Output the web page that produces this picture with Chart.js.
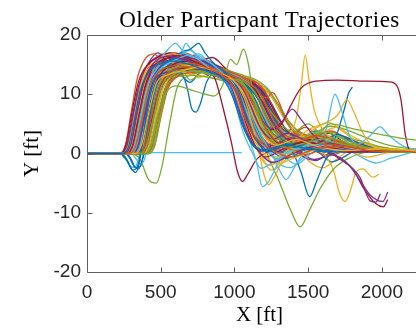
<!DOCTYPE html>
<html><head><meta charset="utf-8">
<script src="https://cdn.jsdelivr.net/npm/chart.js@4/dist/chart.umd.min.js"></script>
<style>html,body{margin:0;padding:0;overflow:hidden;background:#fff}#wrap{width:432px;height:329px}</style>
</head><body><div id="wrap"><canvas id="c" width="432" height="329"></canvas></div>
<script>
// ---- data: each trajectory as [X ft, Y ft] key points ----
const t01=[[0,0],[240,0],[280,1],[320,5.5],[360,10.5],[410,13.5],[480,15],[580,15.6],[700,15],[820,13.8],[920,12.6],[990,9.5],[1050,5],[1110,2],[1200,0.6],[1350,1.4],[1500,0.8],[1700,0.2]];
const t02=[[0,0],[290,0],[330,1.3],[375,6],[420,11],[480,13.6],[580,14.8],[700,15.2],[820,14.4],[930,13],[1010,10.5],[1070,6],[1140,2.8],[1230,1],[1380,-0.6],[1550,0.8],[1750,1.2],[1950,0.4],[2200,0.3]];
const t03=[[0,0],[330,0],[370,1.5],[420,7],[470,11.8],[540,13.2],[650,14],[760,14.6],[880,13.8],[990,12.4],[1070,9.8],[1130,6],[1200,3],[1280,1.4],[1420,2.4],[1560,1.2],[1750,0.5],[2000,0.8],[2340,0.3]];
const t04=[[0,0],[260,0],[300,1.8],[345,7.5],[390,12.5],[450,15.2],[540,16.4],[640,16],[760,14.8],[880,13.5],[970,11.6],[1030,7.5],[1090,3.2],[1160,0.5],[1260,-1.5],[1400,0],[1550,1.2],[1720,0.6],[1900,0.2]];
const t05=[[0,0],[360,0],[400,1.2],[450,6],[500,11],[570,13.6],[680,14.2],[800,13.6],[920,12.8],[1040,12],[1120,9.5],[1180,5.5],[1250,2.5],[1340,1],[1480,1.8],[1650,2.6],[1800,1.5],[2000,0.6],[2250,0.4]];
const t06=[[0,0],[300,0],[340,1.6],[385,7.2],[430,11.6],[500,14.3],[600,15.8],[690,16.6],[780,15.4],[880,13.2],[960,11.4],[1010,8],[1060,3.5],[1120,0.2],[1180,-2.5],[1260,-1.5],[1400,0.6],[1560,1.5],[1700,0.4]];
const t07=[[0,0],[270,0],[310,1.4],[350,6.2],[395,11.4],[450,14.6],[530,16],[620,16.5],[720,15.6],[840,14.2],[950,12.8],[1020,9.8],[1080,5],[1140,1.4],[1210,-0.6],[1320,0.6],[1480,2],[1650,1],[1850,0.3],[2100,0.5]];
const t08=[[0,0],[220,0],[270,-1.2],[310,-2.8],[345,-2],[380,2.5],[420,9],[470,13.2],[540,15.4],[640,16],[750,15],[860,13.4],[950,12],[1010,8.6],[1070,4],[1130,1.2],[1220,0.4],[1380,1.6],[1550,0.7],[1750,0.2]];
const t09=[[0,0],[350,0],[390,1.2],[440,6.5],[490,11.2],[560,13.8],[660,14.6],[780,14.4],[900,13.4],[1000,12.6],[1090,10.4],[1160,6.8],[1230,3.6],[1310,1.6],[1430,0.5],[1600,1.6],[1780,1.1],[1980,0.5],[2340,0.4]];
const t10=[[0,0],[250,0],[290,1.6],[330,7],[375,12],[430,14.8],[500,16.2],[580,16.8],[680,16],[800,14.6],[920,13],[1000,10.8],[1060,6.5],[1120,2.8],[1190,0.3],[1280,-1.8],[1400,-0.8],[1560,0.6],[1700,0.2]];
const t11=[[0,0],[310,0],[350,1.4],[395,6.8],[440,11.4],[500,13.4],[590,13.8],[700,14.2],[820,14],[940,13],[1040,11.5],[1110,8],[1180,4.2],[1260,2.4],[1360,3.4],[1480,2.2],[1620,0.8],[1800,0.3],[2050,0.6]];
const t12=[[0,0],[400,0],[440,1.6],[490,7.2],[540,11.6],[610,13.6],[720,13.9],[850,13.3],[980,12.7],[1080,11.9],[1160,9.5],[1230,6],[1300,3.2],[1380,1.8],[1500,1.2],[1640,2],[1800,1.2],[2000,0.4],[2200,0.2]];
const t13=[[0,0],[280,0],[320,1.2],[360,5.8],[405,10.8],[460,14.6],[530,17],[600,18.6],[660,17],[720,16.2],[800,15.8],[900,14],[980,11.5],[1040,7],[1100,2.5],[1150,-1.5],[1189,-5.6],[1230,-4.8],[1290,-2],[1360,0.2],[1500,1],[1650,0.5]];
const t14=[[0,0],[330,0],[370,1.2],[415,6.4],[460,11.5],[520,14],[600,15.2],[700,15.6],[800,14.6],[870,12.5],[930,7],[980,1.8],[1020,-3],[1054,-4.7],[1090,-3.5],[1150,-1],[1250,0.5],[1400,1.2],[1600,0.6],[1800,0.2]];
const t15=[[0,0],[230,0],[270,-1],[300,-2.5],[330,-3.2],[355,-1.5],[385,3.5],[420,9.5],[470,13.4],[550,15.4],[650,17.2],[700,17.6],[757,18.6],[800,17],[870,15],[950,13.4],[1020,11],[1080,6.4],[1140,2.6],[1220,0.4],[1320,1.4],[1460,0.8],[1620,0.2]];
const t16=[[0,0],[370,0],[410,1.4],[455,6.6],[500,11],[560,13],[650,14],[760,14.8],[870,14.3],[980,13.2],[1080,12],[1160,10.6],[1220,8],[1280,5],[1350,3],[1440,2.2],[1560,3],[1700,2],[1850,0.8],[2100,0.3],[2340,0.2]];
const t17=[[0,0],[240,0],[280,1.3],[320,6.2],[365,11.6],[420,14.8],[480,15.4],[520,16.6],[560,15.6],[640,15],[760,14.6],[880,13.6],[970,12],[1030,8.4],[1090,4],[1150,0.8],[1200,-1.5],[1250,-2],[1310,-0.4],[1420,1],[1580,0.6],[1760,0.2]];
const t18=[[0,0],[300,0],[345,1.8],[390,7.6],[440,12.2],[500,14.8],[580,16],[680,16.2],[780,15.6],[890,14.4],[990,13],[1070,11.2],[1140,8],[1200,5.2],[1260,4.2],[1330,5.6],[1392,7.5],[1450,5.8],[1540,3],[1650,1.8],[1780,1.2],[1950,0.4],[2150,0.5]];
const t19=[[0,0],[280,0],[320,1],[365,5.6],[410,10.6],[470,13.2],[560,14.2],[660,14.8],[760,14.2],[860,13.4],[960,12.8],[1040,12.4],[1100,10],[1160,6.2],[1220,3],[1300,1.4],[1420,0.8],[1560,3],[1650,5],[1800,4.2],[1950,3.4],[2150,2.5],[2340,2]];
const t20=[[0,0],[320,0],[360,1.5],[405,6.8],[450,11.2],[510,13.6],[600,14.6],[680,15.6],[740,15],[820,14.5],[920,13.4],[1010,12],[1080,9.5],[1140,5.4],[1200,2.2],[1260,-0.4],[1310,-3],[1350,-4.4],[1410,-2.2],[1480,0.4],[1600,1.6],[1720,0.8],[1880,0.3],[2100,0.6]];
const t21=[[0,0],[360,0],[400,1.4],[445,6.4],[490,11],[550,13.2],[640,14.3],[740,14.6],[850,14],[960,13],[1060,12.2],[1140,10.8],[1200,8],[1260,4.8],[1330,2.6],[1420,1.6],[1520,2.4],[1640,1.6],[1800,0.6],[2000,0.4],[2250,0.3]];
const t22=[[0,0],[260,0],[290,-0.8],[320,-2.2],[350,-2.6],[380,-0.5],[410,4],[450,9.6],[500,13.4],[570,15.2],[670,16.4],[760,15.8],[870,14.4],[970,12.8],[1050,10.8],[1110,7],[1170,3.5],[1230,1.2],[1330,0.2],[1450,1.4],[1600,0.9],[1780,0.3],[1960,0.5]];
const t23=[[0,0],[290,0],[330,1.2],[375,6.2],[420,11.2],[480,14],[560,15.4],[640,16.2],[720,15.8],[820,14.8],[920,13.8],[1010,12.6],[1080,10],[1130,6.8],[1190,3.5],[1260,1.8],[1360,1.2],[1480,-0.2],[1620,1],[1800,1.4],[2000,0.6],[2340,0.4]];
const t24=[[0,0],[380,0],[420,1.4],[465,6.4],[510,10.8],[580,13.2],[680,14.2],[790,14],[900,13.2],[1000,12.4],[1060,10],[1110,5.8],[1160,1],[1200,-3.5],[1230,-5.3],[1270,-4],[1330,-1],[1420,0.8],[1560,1.4],[1720,0.6],[1900,0.3]];
const t25=[[0,0],[250,0],[290,1.4],[335,6.8],[380,11.8],[440,14.6],[520,15.6],[610,15.2],[700,14.4],[800,13.6],[900,12.8],[980,11.4],[1040,8],[1100,4.2],[1170,2],[1260,1.4],[1380,2.6],[1500,2],[1650,0.6],[1820,0.2],[2000,0.4]];
const t26=[[0,0],[340,0],[380,1.2],[425,6],[470,10.8],[530,13.4],[620,14.6],[720,15.2],[830,14.6],[940,13.6],[1030,12.4],[1100,10.4],[1160,7.2],[1220,4.4],[1290,2.6],[1380,1.8],[1500,3],[1620,3.6],[1740,2.4],[1900,1],[2100,0.6],[2340,0.5]];
const t27=[[0,0],[290,0],[330,1.6],[375,7.4],[420,12],[480,14.4],[560,15.6],[640,16.8],[700,17.4],[760,16],[860,14.2],[960,12.8],[1030,10.4],[1090,6.6],[1150,3],[1210,1],[1280,-0.8],[1380,0.5],[1520,1.8],[1620,4],[1682,10],[1730,7],[1780,3],[1860,1],[1980,0.4]];
const t28=[[0,0],[230,0],[265,1.6],[305,7],[350,12.2],[410,15],[480,16.2],[560,16.8],[650,16.2],[760,15],[870,13.6],[960,12.2],[1020,9.4],[1070,5.2],[1120,1.8],[1180,0.4],[1270,1.6],[1400,2.4],[1540,1.2],[1700,0.3],[1880,0.2]];
const t29=[[0,0],[310,0],[350,1.4],[395,6.8],[440,11.6],[500,13.8],[590,15],[670,15.8],[740,15.2],[820,14.4],[930,13.4],[1030,12.2],[1110,10.8],[1180,8.4],[1250,5],[1320,2.4],[1400,0],[1450,-3],[1510,-7.3],[1560,-4.5],[1620,-1],[1700,0.8],[1820,0.4],[2000,0.2]];
const t30=[[0,0],[270,0],[310,1.2],[350,5.8],[395,10.8],[450,13.6],[530,15],[620,15.4],[720,14.8],[830,13.8],[940,12.8],[1020,11],[1080,7.4],[1140,3.8],[1200,1.6],[1290,0.6],[1420,1.6],[1560,1],[1700,1.8],[1840,0.8],[2000,0.3],[2200,0.2]];
const t31=[[0,0],[320,0],[360,1.4],[405,6.6],[450,11.4],[510,14],[590,15.2],[680,15.6],[780,15],[880,14],[980,12.8],[1060,11],[1120,8],[1180,4.6],[1240,2.2],[1310,1.2],[1400,2],[1500,4],[1600,5],[1700,6.5],[1763,9.1],[1810,7],[1870,3.5],[1940,1.2],[2050,0.6],[2200,0.4]];
const t32=[[0,0],[350,0],[390,1.6],[435,7],[480,11.6],[540,13.6],[630,14.4],[730,14.6],[840,14],[950,13],[1050,12],[1130,10.6],[1200,8.4],[1260,5.4],[1330,3],[1420,1.6],[1520,1],[1640,0.2],[1750,-1.5],[1850,-4],[1920,-8],[1960,-8.2],[1990,-6.8]];
const t33=[[0,0],[390,0],[430,1.4],[480,6.6],[530,10],[600,11.4],[700,10.8],[800,10],[860,9.7],[920,11.5],[973,15.9],[1015,15],[1061,17.6],[1095,15],[1130,9],[1170,3.5],[1220,0.6],[1300,-1],[1420,0.6],[1560,1.4],[1720,0.6],[1900,0.3]];
const t34=[[0,0],[300,0],[330,-0.8],[360,-1.8],[390,-1],[420,3],[460,9],[510,13],[580,15.4],[640,17],[670,18.6],[710,17.4],[780,16.2],[880,14.6],[980,13],[1050,10.6],[1110,6.6],[1170,3],[1240,0.8],[1330,0],[1460,1.2],[1600,2.2],[1740,1.4],[1900,0.6],[2120,0.3]];
const t35=[[0,0],[330,0],[370,1.6],[415,7],[460,11.8],[520,14],[600,14.8],[700,15.2],[810,14.6],[920,13.4],[1010,11.6],[1070,8.6],[1120,5.6],[1180,4.2],[1250,4],[1320,5],[1380,8],[1450,11],[1550,12.2],[1700,12.4],[1900,12.2],[2050,12.1],[2100,11.5],[2130,9],[2160,3],[2190,0.5],[2250,0.2],[2340,0.3]];
const t36=[[0,0],[360,0],[400,1.2],[445,6],[490,10.8],[550,13.4],[640,14.8],[750,15.4],[860,14.6],[970,13.4],[1060,12],[1130,9.6],[1190,6.4],[1250,3.6],[1330,2],[1430,1.4],[1530,0.6],[1620,1.2],[1690,3],[1740,7],[1775,10.2],[1800,11.2]];
const t37=[[0,0],[250,0],[290,1.2],[330,5.8],[375,11],[430,14],[510,15.4],[600,16],[700,15.6],[810,14.6],[920,13.4],[1000,11.8],[1060,8.2],[1120,4.2],[1180,1.8],[1250,1],[1360,2.2],[1470,3.2],[1560,2.4],[1700,1],[1880,0.4],[2100,0.5],[2340,0.3]];
const t38=[[0,0],[280,0],[320,1.4],[365,6.6],[410,11.4],[470,14.2],[550,15.2],[640,15.6],[740,15],[850,13.8],[960,12.8],[1050,11.6],[1120,9],[1180,6],[1240,3.6],[1300,2.6],[1370,3.2],[1420,6],[1455,12],[1480,16.6],[1505,12.5],[1540,7.5],[1600,4],[1680,2.2],[1780,0.6],[1900,-0.6],[2050,0.2],[2200,0.4]];
const t39=[[0,0],[240,0],[280,1.6],[320,7.2],[365,12.4],[420,15.2],[490,16.4],[580,16.6],[680,15.8],[790,14.4],[900,13],[990,11.6],[1050,8.2],[1110,4],[1170,1.6],[1250,0.8],[1360,2],[1480,1.4],[1620,0.4],[1760,-1.5],[1850,-4.5],[1920,-7],[2007,-8.1],[2040,-6.5]];
const t40=[[0,0],[300,0],[340,1.2],[385,6],[430,11],[490,13.8],[570,15],[660,15.4],[760,15],[870,14],[970,12.8],[1050,11.2],[1110,8],[1160,4.4],[1200,1.6],[1240,-1.2],[1300,-4.5],[1380,-9.5],[1446,-12.4],[1510,-9.5],[1580,-6],[1670,-2.7],[1760,-1],[1880,0.2],[2050,0.5],[2250,0.3]];
const t41=[[0,0],[370,0],[410,1.4],[455,6.4],[500,11],[560,13.4],[650,14.2],[760,14.6],[870,14.2],[980,13.4],[1080,12.2],[1150,10.4],[1220,7.4],[1290,4.6],[1370,3],[1470,2.4],[1580,1.2],[1700,0.2],[1820,1.2],[1920,3],[1986,4.5],[2050,3],[2150,1.2],[2300,0.5]];
const t42=[[0,0],[310,0],[350,1.2],[395,6],[440,10.8],[500,13.2],[580,14.4],[680,15],[790,14.6],[900,13.6],[1000,12.4],[1080,10.6],[1150,7.6],[1210,4.2],[1280,2],[1380,0.8],[1500,1.6],[1620,0.6],[1720,-1],[1800,-2.5],[1880,-6],[1960,-8.5],[2010,-9],[2040,-7.8]];
const t43=[[0,0],[270,0],[300,-1],[330,-2.4],[360,-2.2],[390,0.4],[425,5.6],[470,11],[530,14.2],[610,15.6],[700,16],[800,15],[900,13.6],[990,12],[1060,9.2],[1120,5.2],[1180,2],[1250,0.4],[1350,-0.8],[1480,0.6],[1640,1.2],[1800,0.4],[2000,0.2]];
const t44=[[0,0],[400,0],[440,1.2],[485,6],[530,10.4],[600,12.8],[700,13.6],[800,13.8],[900,13.4],[1000,12.8],[1100,12],[1180,9.8],[1220,9.4],[1257,10.3],[1300,8.8],[1350,5.5],[1410,3.4],[1480,2.6],[1580,3.4],[1700,2.2],[1850,1],[2050,0.4],[2340,0.3]];
const t45=[[0,0],[260,0],[300,1.4],[345,6.8],[390,11.8],[450,14.4],[530,15.6],[620,15.8],[720,15.2],[820,14.2],[920,13.2],[1000,11.8],[1060,9],[1110,5],[1160,1.4],[1200,-1.2],[1250,-2.8],[1310,-2],[1380,-0.2],[1500,0.8],[1640,0.2],[1800,0.6],[1950,0.3]];
const t46=[[0,0],[290,0],[330,1.4],[375,6.6],[420,11.4],[480,14.2],[560,15.8],[650,16.4],[750,15.6],[860,14.4],[960,13.2],[1040,11.8],[1100,9.4],[1160,6.4],[1230,4],[1310,2.4],[1400,1.6],[1520,2.2],[1650,1.2],[1800,0.5],[2000,0.4],[2250,0.5]];
const t47=[[0,0],[340,0],[380,1.4],[425,6.6],[470,11.2],[530,13.6],[620,14.6],[720,14.8],[830,14.2],[940,13.2],[1040,12.2],[1120,10.6],[1190,8],[1250,5.2],[1320,3.2],[1400,2.4],[1480,3],[1560,1.8],[1620,-0.5],[1670,-2.7],[1710,-6.5],[1750,-8.1],[1790,-6],[1820,-3.4],[1870,-2.6],[1940,-4],[1980,-3.5]];
const t48=[[0,0],[420,0],[460,1.6],[505,7],[550,11.4],[620,13],[720,13.2],[830,12.8],[940,12.2],[1040,11.6],[1130,10.4],[1200,8.6],[1260,6.6],[1330,4.6],[1410,3.2],[1500,2.4],[1600,3.2],[1700,2],[1850,0.8],[2050,0.5],[2300,0.4]];
const t49=[[0,0],[330,0],[370,1.4],[415,6.8],[460,11.4],[520,13.6],[610,14.4],[710,14.2],[820,13.6],[930,13],[1030,12.2],[1100,10.4],[1160,7],[1220,3.4],[1280,1],[1340,-0.6],[1420,-1.8],[1500,-0.4],[1600,1.4],[1700,3],[1760,2],[1840,0.6],[1980,0.2],[2150,0.4]];
const t50=[[0,0],[280,0],[320,1.6],[365,7.2],[410,12],[470,14.8],[550,16],[650,16.2],[750,15.6],[860,14.6],[960,13.4],[1040,11.8],[1100,8.8],[1160,5],[1220,2.4],[1300,1.6],[1400,2.8],[1520,1.8],[1680,0.6],[1860,0.3],[2100,0.2]];
const t51=[[0,0],[380,0],[420,1.6],[465,6.8],[510,11.2],[570,13.4],[640,13.6],[680,11],[710,7.6],[740,7],[770,8.5],[810,12],[860,13.4],[960,13],[1060,12.2],[1140,10.6],[1210,7.6],[1270,4.8],[1340,2.8],[1430,1.8],[1540,2.6],[1660,1.6],[1800,0.6],[2000,0.3],[2200,0.4]];
const t52=[[0,0],[310,0],[350,1.6],[395,7.4],[440,12.2],[500,14.8],[580,16.2],[660,17],[740,16.2],[840,14.8],[940,13.4],[1020,12],[1080,9],[1140,5.2],[1200,2.4],[1280,1.2],[1380,1.8],[1500,1.2],[1640,0.4],[1800,0.6],[2000,0.3]];
const t53=[[0,0],[350,0],[390,1.4],[430,6.4],[475,11],[540,13.2],[620,13.8],[700,13.4],[800,13],[900,12.6],[1000,12.4],[1080,11.4],[1150,8.6],[1210,5.2],[1270,2.6],[1340,1.4],[1440,2],[1560,2.8],[1680,1.8],[1830,0.6],[2050,0.3],[2340,0.3]];
const t54=[[0,0],[230,0],[270,1.4],[310,6.6],[355,11.8],[410,14.4],[480,15],[570,15.6],[670,15.4],[780,14.6],[880,13.6],[960,12.2],[1020,9.6],[1080,5.6],[1140,2.4],[1210,0.8],[1300,0.2],[1420,1.4],[1560,0.8],[1720,0.2],[1900,0.4]];
const t55=[[0,0],[300,0],[360,-1],[420,-4.5],[470,-5],[510,-2],[560,5],[610,11],[680,13],[780,13.6],[880,13],[980,12.4],[1070,11.2],[1140,8.6],[1200,5.6],[1270,3.2],[1350,2],[1450,1.2],[1580,2],[1720,1.2],[1900,0.5],[2100,0.3]];
const t56=[[0,0.15],[400,0.15],[800,0.15],[1050,0.15]];
const t57=[[0,0],[400,0],[440,1.4],[485,6.6],[530,11],[590,13.2],[680,14],[790,14.2],[900,13.6],[1000,13],[1090,12.2],[1170,11],[1240,8.6],[1300,5.8],[1370,3.6],[1460,2.4],[1560,1.6],[1680,2.2],[1820,1.2],[2000,0.5],[2250,0.3]];
const t58=[[0,0],[290,0],[330,1.2],[375,6.2],[420,11.2],[480,14],[560,15.4],[650,15.6],[750,14.8],[860,13.6],[960,12.6],[1040,11.2],[1110,8],[1170,4.6],[1240,2.2],[1330,1],[1440,1.8],[1580,1],[1740,0.4],[1960,0.2]];
const t59=[[0,0],[340,0],[380,1.4],[425,6.4],[470,11],[530,13.4],[620,14.8],[720,15.2],[830,14.8],[940,14],[1040,13],[1120,11.2],[1180,8],[1240,5],[1310,3],[1400,2],[1510,1],[1640,-0.4],[1780,0.6],[1950,0.3],[2150,0.5],[2340,0.3]];
const t60=[[0,0],[270,0],[310,1.2],[355,6],[400,11],[460,13.8],[540,15],[630,15.4],[730,14.8],[840,13.8],[940,12.8],[1020,11.4],[1080,8.4],[1130,4.6],[1180,1.6],[1240,-0.2],[1320,-0.6],[1420,0.4],[1560,1.6],[1700,0.8],[1860,0.3]];
const t61=[[0,0],[220,0],[260,1.4],[300,7],[340,12.6],[390,15.8],[453,16.8],[510,15.6],[580,14.8],[680,14.6],[790,14],[900,13],[990,11.8],[1050,8.6],[1110,4.4],[1170,1.6],[1250,0.6],[1380,1.6],[1520,0.8],[1700,0.3]];
const t62=[[0,0],[320,0],[360,1.2],[405,6.2],[450,11],[510,13.8],[600,15],[700,15.8],[800,15.2],[900,14],[1000,12.8],[1090,12],[1160,11],[1220,9],[1270,6],[1320,3.4],[1390,1.8],[1480,0.6],[1580,1.8],[1700,3.2],[1820,2],[1960,0.8],[2150,0.4],[2340,0.3]];
const t63=[[0,0],[360,0],[400,1.6],[445,7],[490,11.6],[550,13.8],[640,15],[740,15.4],[850,14.8],[960,13.8],[1060,12.8],[1150,12],[1210,10.4],[1260,7.6],[1310,4.6],[1370,2.4],[1440,1.6],[1540,2.6],[1650,3.8],[1760,2.6],[1900,1],[2100,0.4],[2340,0.5]];
const t64=[[0,0],[300,0],[340,1.4],[385,6.6],[430,11.4],[490,14.2],[570,15.6],[660,16],[760,15.4],[870,14.2],[970,13.4],[1060,12.8],[1130,11.4],[1190,8.8],[1240,5.6],[1300,3],[1370,1.6],[1460,2.6],[1560,4.4],[1640,5.2],[1740,3.6],[1860,1.6],[2000,0.6],[2200,0.4]];
const t65=[[0,0],[270,0],[310,1.4],[355,6.6],[400,11.8],[460,14.8],[540,16],[630,16.4],[730,15.8],[840,14.6],[940,13.4],[1030,12.6],[1110,11.6],[1170,9.4],[1230,6.2],[1290,3.4],[1360,1.6],[1440,0.4],[1540,-1],[1650,-0.2],[1780,1],[1920,0.4],[2100,0.2]];
const t66=[[0,0],[380,0],[420,1.4],[465,6.4],[510,11],[570,13.2],[660,14.2],[760,14.8],[860,14.6],[960,14],[1060,13.2],[1150,12.4],[1230,10.8],[1290,8.4],[1350,5.6],[1420,3.6],[1500,2.6],[1600,2],[1720,2.8],[1840,2.2],[1980,1.2],[2150,0.6],[2340,0.4]];
const t67=[[0,0],[260,0],[300,1.2],[345,6],[390,11],[450,14],[530,15.6],[620,16.4],[720,15.8],[830,14.6],[930,13.6],[1020,12.8],[1100,11.6],[1160,9.2],[1210,6],[1260,3.2],[1320,1.2],[1390,0],[1470,1.2],[1570,2.4],[1650,1.6],[1760,0.6],[1880,1.2],[2000,0.5]];
const t68=[[0,0],[290,0],[330,1.6],[375,7.2],[420,12],[480,14.8],[560,16],[650,16.6],[760,16],[870,15],[970,13.8],[1060,12.8],[1140,11.6],[1200,9.6],[1250,6.8],[1300,4],[1360,2.2],[1440,1.4],[1540,2.8],[1640,3.4],[1740,2],[1880,0.8],[2060,0.3],[2340,0.2]];
const t69=[[0,0],[340,0],[380,1.2],[425,6],[470,10.8],[530,13.6],[620,15.2],[720,16],[820,15.4],[920,14.2],[1010,13],[1090,12],[1160,10.8],[1220,8.6],[1280,5.8],[1340,3.4],[1410,1.8],[1490,1],[1580,0],[1660,-1.4],[1740,-0.6],[1840,0.6],[1960,0.3],[2100,0.4]];
const t70=[[0,0],[250,0],[290,1.4],[335,6.8],[380,11.8],[440,14.6],[520,15.8],[610,16],[710,15.4],[820,14.2],[920,13],[1010,11.8],[1080,10.4],[1140,8.2],[1200,5.4],[1260,3.2],[1330,2],[1410,1.4],[1500,2],[1600,1.2],[1720,0.4],[1860,0.6],[2020,0.3]];
const t71=[[0,0],[390,0],[430,1.4],[475,6.6],[520,11.2],[580,13.4],[670,14.4],[770,14.6],[880,14.2],[990,13.6],[1090,12.8],[1170,11.8],[1240,10],[1300,7.4],[1360,5],[1430,3.4],[1510,2.8],[1600,3.6],[1690,4.4],[1780,3.2],[1900,1.6],[2050,0.8],[2340,0.4]];
const t72=[[0,0],[320,0],[360,1.4],[405,6.6],[450,11.4],[510,14],[600,15.4],[700,15.8],[800,15.2],[900,14.2],[1000,13.4],[1090,12.6],[1160,11.2],[1220,8.6],[1280,5.4],[1340,2.8],[1400,1],[1470,-0.6],[1550,-1.2],[1650,0.2],[1760,1.2],[1880,0.6],[2040,0.3],[2250,0.4]];
const t73=[[0,0],[310,0],[350,1.2],[395,6],[440,10.8],[500,13.4],[590,14.6],[690,15],[800,14.6],[910,13.8],[1010,13],[1100,12.2],[1170,10.6],[1230,8],[1290,5.2],[1360,3.2],[1440,2.4],[1540,3.4],[1650,4.6],[1760,4],[1880,2.8],[2020,1.6],[2200,0.8],[2340,0.6]];
const t74=[[0,0],[350,0],[390,1.4],[435,6.8],[480,11.4],[540,13.6],[630,14.6],[730,15],[840,14.4],[950,13.4],[1050,12.6],[1130,11.4],[1200,9],[1260,6],[1320,3.6],[1390,2.4],[1470,3],[1560,3.6],[1640,2.4],[1740,1],[1860,-0.6],[1960,-1.6],[2060,-0.8],[2200,0.2]];
const t75=[[0,0],[240,0],[280,1.4],[320,6.8],[365,12],[420,15],[500,16.6],[590,17],[690,16.2],[800,15],[900,13.8],[990,12.6],[1070,11.6],[1140,10],[1200,7.6],[1260,4.6],[1320,2.4],[1400,1.4],[1490,2.2],[1590,1.4],[1720,0.4],[1880,0.3]];
const t76=[[0,0],[370,0],[410,1.6],[455,7],[500,11.6],[560,13.6],[650,14.4],[760,14.6],[870,14],[980,13.2],[1080,12.4],[1160,11.2],[1230,9.2],[1290,6.4],[1350,3.8],[1420,2],[1500,1.2],[1600,2.4],[1700,3],[1800,2],[1920,0.8],[2100,0.3],[2340,0.3]];
const t77=[[0,0],[330,0],[370,1.2],[415,6.2],[460,11],[520,13.8],[610,15.2],[710,15.6],[810,15],[910,14],[1000,13],[1070,11.6],[1130,9],[1190,5.8],[1250,3.4],[1320,2.2],[1400,3.2],[1480,4.4],[1560,3.2],[1660,1.6],[1780,0.6],[1920,0.4],[2100,0.6],[2340,0.4]];
const t78=[[0,0],[280,0],[320,1.6],[365,7.2],[410,12],[470,14.6],[550,15.4],[640,15.2],[740,14.6],[850,13.8],[950,13],[1040,12.2],[1110,10.6],[1170,7.8],[1230,4.8],[1290,2.6],[1360,1.4],[1440,0.4],[1520,-1.6],[1600,-2.4],[1680,-1.2],[1780,0.4],[1900,0.6],[2040,0.3]];
const t79=[[0,0],[360,0],[400,1.4],[445,6.8],[490,11.4],[550,13.8],[640,15],[740,15.4],[850,14.8],[960,13.8],[1060,12.8],[1140,11.8],[1210,10.2],[1270,7.6],[1330,4.8],[1400,2.8],[1480,2],[1570,2.8],[1680,2.2],[1800,1],[1950,0.5],[2150,0.4],[2340,0.5]];
const t80=[[0,0],[410,0],[450,1.4],[495,6.4],[540,11],[600,13],[690,13.8],[790,14.2],[890,13.8],[990,13],[1080,12.2],[1160,11.4],[1240,10],[1310,7.6],[1380,5],[1460,3.4],[1550,2.8],[1650,3.6],[1750,2.6],[1880,1.4],[2050,0.6],[2250,0.4]];
const t81=[[0,0],[230,0],[260,-0.8],[290,-2],[320,-2.4],[350,-0.8],[380,3.6],[415,9.6],[460,13.4],[530,15.4],[620,16.4],[720,16],[830,14.8],[930,13.4],[1010,12],[1070,10],[1120,6.8],[1170,3.6],[1230,1.4],[1300,0.2],[1400,1],[1520,2],[1640,1.4],[1780,0.4],[1940,0.2]];
const t82=[[0,0],[300,0],[340,1.4],[385,6.8],[430,11.8],[490,14.4],[570,15.6],[660,16],[760,15.6],[860,14.6],[960,13.6],[1050,12.8],[1130,11.8],[1200,9.8],[1260,7],[1320,4.4],[1390,2.6],[1470,1.8],[1560,2.6],[1660,1.8],[1780,0.8],[1920,0.4],[2100,0.6],[2340,0.3]];
const t83=[[0,0],[280,0],[320,1.4],[365,6.6],[410,11.6],[470,14.6],[550,16.2],[640,16.8],[740,16.2],[850,15],[950,13.8],[1040,12.8],[1120,11.8],[1180,9.8],[1240,6.8],[1300,3.8],[1360,1.8],[1430,0.8],[1520,1.6],[1620,2.6],[1720,1.8],[1840,0.8],[1980,0.3],[2200,0.3]];
const t84=[[0,0],[420,0],[460,1.4],[505,6.6],[550,11],[610,13],[700,13.8],[800,14],[900,13.6],[1000,13],[1100,12.4],[1180,11.6],[1250,10],[1310,7.8],[1370,5.4],[1440,3.6],[1520,2.6],[1620,1.8],[1720,1.2],[1840,1.8],[1960,1.2],[2150,0.5],[2340,0.4]];
const t85=[[0,0],[300,0],[340,1.4],[385,6.8],[430,12],[480,15.6],[530,14],[580,12.6],[640,14.6],[700,16.4],[760,15],[820,13.2],[890,14.6],[960,13.6],[1030,11.2],[1090,7.4],[1150,3.6],[1220,1.4],[1300,2.8],[1380,4],[1460,2.6],[1560,0.8],[1680,1.6],[1820,0.6],[2000,0.3]];
const t86=[[0,0],[350,0],[390,1.4],[435,6.6],[480,11.2],[530,13.8],[590,16],[640,14.6],[700,12.4],[770,13.6],[840,15.4],[910,14],[990,12.6],[1070,11.8],[1140,9.2],[1200,6.2],[1260,4],[1330,2.4],[1410,3.6],[1500,5],[1580,3.4],[1680,1.6],[1800,0.6],[1980,0.4]];
const t87=[[0,0],[260,0],[300,1.2],[345,6.4],[390,11.4],[440,14.4],[500,16.8],[560,15.2],[620,13.6],[690,15.2],[760,16.8],[830,15],[900,13.4],[980,12.6],[1050,10.4],[1110,6.6],[1170,3],[1230,0.8],[1300,-1.6],[1380,-2.4],[1460,-0.8],[1560,1],[1680,0.4],[1820,0.2]];
const t88=[[0,0],[310,0],[350,1.6],[395,7.4],[440,12.4],[500,15.4],[560,17],[620,16],[690,14.4],[770,15.6],[850,16.2],[930,14.6],[1000,12.8],[1070,11.4],[1130,8.6],[1190,5.4],[1250,3],[1320,1.6],[1400,2.6],[1490,1.4],[1600,0.4],[1740,1],[1900,0.4],[2100,0.2]];
const t89=[[0,0],[330,0],[370,1.2],[415,6],[460,11],[520,13.4],[580,14.8],[640,13.2],[700,12],[760,13.6],[830,15.2],[900,14.4],[980,13.2],[1060,12.4],[1130,10.8],[1190,8],[1250,5],[1310,2.8],[1380,1.4],[1460,2.4],[1550,3.8],[1640,2.6],[1750,1],[1900,0.4],[2100,0.5]];
const t90=[[0,0],[280,0],[320,1.4],[365,7],[410,12],[460,15],[520,16.2],[580,15],[650,13.6],[720,14.8],[790,16],[860,15],[930,13.4],[1010,12],[1080,9.8],[1140,6.4],[1200,3.4],[1270,1.6],[1350,2.8],[1440,3.6],[1530,2.2],[1640,0.8],[1780,0.3],[1960,0.5]];
const t91=[[0,0],[370,0],[410,1.4],[455,6.8],[500,11.4],[560,14],[620,15.6],[690,14.2],[760,12.8],[830,13.8],[900,14.6],[980,13.8],[1060,12.6],[1140,11.6],[1210,9.6],[1270,6.6],[1330,4],[1400,2.2],[1480,1.2],[1570,2.2],[1680,3],[1790,2],[1920,0.8],[2100,0.4],[2340,0.3]];
const t92=[[0,0],[240,0],[280,1.6],[320,7.2],[365,12.2],[420,15.4],[480,17],[540,15.6],[600,14],[660,15.4],[730,16.6],[800,15.2],[880,13.6],[960,12.4],[1030,10.2],[1090,6.4],[1150,3],[1210,1.2],[1290,0.4],[1380,1.6],[1480,2.6],[1580,1.6],[1700,0.6],[1860,0.3]];

const trajectories=[t01,t02,t03,t04,t05,t06,t07,t08,t09,t10,t11,t12,t13,t14,t15,t16,t17,t18,t19,t20,t21,t22,t23,t24,t25,t26,t27,t28,t29,t30,t31,t32,t33,t34,t35,t36,t37,t38,t39,t40,t41,t42,t43,t44,t45,t46,t47,t48,t49,t50,t51,t52,t53,t54,t55,t56,t57,t58,t59,t60,t61,t62,t63,t64,t65,t66,t67,t68,t69,t70,t71,t72,t73,t74,t75,t76,t77,t78,t79,t80,t81,t82,t83,t84,t85,t86,t87,t88,t89,t90,t91,t92];
const xTicks=[0,500,1000,1500,2000];
const yTicks=[-20,-10,0,10,20];

// ---- styles ----
const palette={b:'#0072BD',o:'#D95319',y:'#EDB120',p:'#7E2F8E',g:'#77AC30',c:'#4DBEEE',r:'#A2142F'};
const seriesColors=['b','o','y','p','g','c','r','b','o','y','p','g','c','r','b','o','y','p','g','c','r','b','o','y','p','g','c','r','b','o','y','p','g','c','r','b','o','y','p','g','c','r','b','o','y','p','y','g','c','r','b','o','y','p','g','c','r','b','o','y','o',
  'b','o','y','p','g','c','r','b','o','y','p','g','c','r','b','o','y','p','g','c','r','b','o',
  'p','g','c','r','b','o','y','p'];

const axisColor='#5f5f5f';
const framePlugin={
  id:'frame',
  afterDatasetsDraw(chart){
    const {ctx,chartArea:a,scales:{x,y}}=chart;
    ctx.save();
    ctx.strokeStyle=axisColor;ctx.lineWidth=1;
    const L=Math.round(a.left)+0.5, B=Math.round(a.bottom)+0.5, T=Math.round(a.top)+0.5;
    ctx.beginPath();
    ctx.moveTo(L,T);ctx.lineTo(L,B);ctx.lineTo(a.right,B);
    ctx.moveTo(L,T);ctx.lineTo(a.right,T);
    const tl=5;
    xTicks.forEach(v=>{const px=Math.round(x.getPixelForValue(v))+0.5;ctx.moveTo(px,B);ctx.lineTo(px,B-tl);ctx.moveTo(px,T);ctx.lineTo(px,T+tl);});
    yTicks.forEach(v=>{const py=Math.round(y.getPixelForValue(v))+0.5;ctx.moveTo(L,py);ctx.lineTo(L+tl,py);});
    ctx.stroke();
    ctx.fillStyle='#000';
    ctx.font='23px "Liberation Serif"';
    try{ctx.letterSpacing='0.5px';}catch(e){}
    ctx.textAlign='center';ctx.textBaseline='alphabetic';
    ctx.fillText('Older Particpant Trajectories',(a.left+a.right)/2,26.5);
    ctx.restore();
  }
};

new Chart(document.getElementById('c'),{
  type:'line',
  data:{datasets:trajectories.map((t,i)=>({
    data:t.map(p=>({x:p[0],y:p[1]})),
    borderColor:palette[seriesColors[i]],
    borderWidth:1.3,pointRadius:0,fill:false,
    cubicInterpolationMode:'monotone'
  }))},
  options:{
    responsive:false,animation:false,events:[],
    layout:{padding:{top:35,left:0,right:0,bottom:0}},
    plugins:{legend:{display:false},tooltip:{enabled:false},title:{display:false}},
    scales:{
      x:{type:'linear',min:0,max:2340,
        afterBuildTicks(s){s.ticks=xTicks.map(v=>({value:v}));},
        afterFit(s){s.height=57;},
        ticks:{color:'#262626',font:{family:'"Liberation Sans"',size:19},padding:9.6,maxRotation:0,autoSkip:false,callback:v=>String(v)},
        grid:{display:false,drawTicks:false},border:{display:false},
        title:{display:true,text:'X [ft]',color:'#000',font:{family:'"Liberation Serif"',size:21},padding:{top:0,bottom:0.8}}
      },
      y:{type:'linear',min:-20,max:20,
        afterBuildTicks(s){s.ticks=yTicks.map(v=>({value:v}));},
        afterFit(s){s.width=87;},
        ticks:{color:'#262626',font:{family:'"Liberation Sans"',size:19},padding:6,callback:v=>String(v)},
        grid:{display:false,drawTicks:false},border:{display:false},
        title:{display:true,text:'Y [ft]',color:'#000',font:{family:'"Liberation Serif"',size:21},padding:{top:19.5,bottom:0}}
      }
    }
  },
  plugins:[framePlugin]
});
</script></body></html>
